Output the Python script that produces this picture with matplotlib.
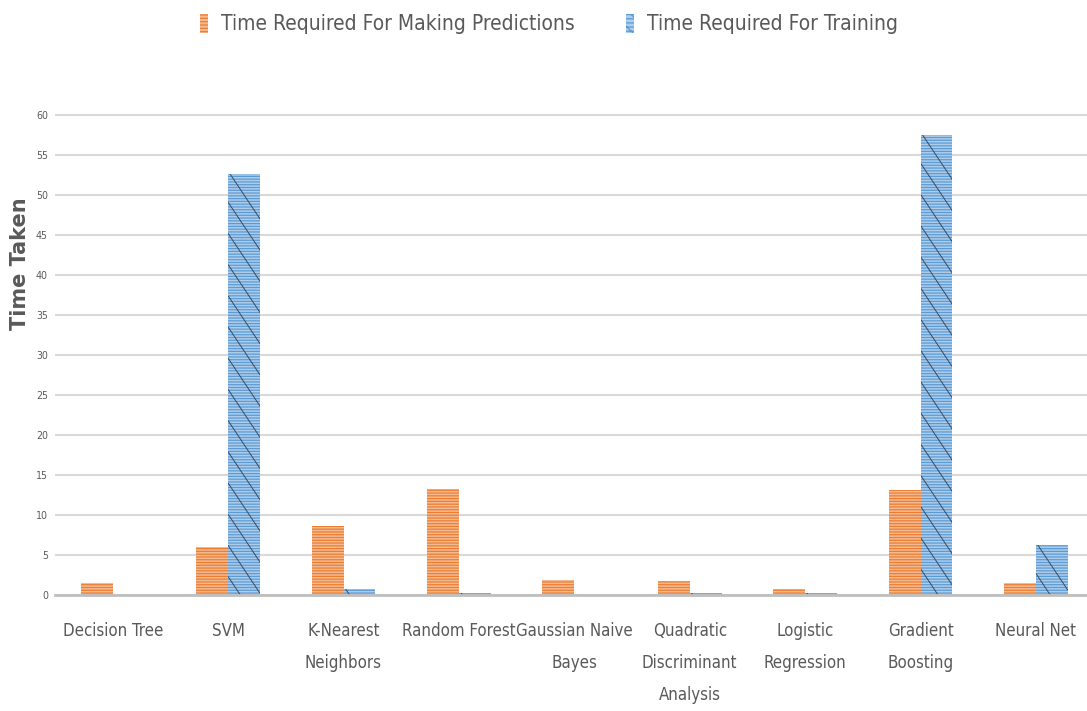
import numpy as np
import matplotlib
matplotlib.use("Agg")
import matplotlib.pyplot as plt
from matplotlib.collections import LineCollection
from matplotlib.patches import Patch
from matplotlib import font_manager

models = ["Decision Tree", "SVM", "K-Nearest\nNeighbors", "Random Forest",
          "Gaussian Naive\nBayes", "Quadratic\nDiscriminant\nAnalysis",
          "Logistic\nRegression", "Gradient\nBoosting", "Neural Net"]
predict_time = [1.45, 6.0, 8.6, 13.25, 1.9, 1.8, 0.75, 13.15, 1.5]
train_time = [0.03, 52.6, 0.75, 0.3, 0.03, 0.2, 0.2, 57.5, 6.2]
yticks = list(range(0, 65, 5))
legend_labels = ["Time Required For Making Predictions", "Time Required For Training"]

# the reference text is condensed: pick the narrowest sans face available
rank = {"ultra-condensed": 0, "extra-condensed": 1, "condensed": 2, "semi-condensed": 3}
best, best_r = None, 9
for f in font_manager.fontManager.ttflist:
    n = f.name.lower()
    if "mono" in n or "serif" in n:
        continue
    st = str(f.stretch).lower()
    r = rank.get(st, 9)
    if r == 9 and ("narrow" in n or "condensed" in n):
        r = 2
    if r < best_r and f.weight in (400, "normal", "regular", "book"):
        best, best_r = f, r
txt = dict(family=best.name, stretch=best.stretch) if best else dict(family="Open Sans")

grey = "#595959"
fig = plt.figure(figsize=(10.87, 7.11), dpi=100)
renderer = fig.canvas.get_renderer()


def size_for(s, target_px, base=20.0):
    t = fig.text(0, 0, s, fontsize=base, **txt)
    wpx = t.get_window_extent(renderer).width
    t.remove()
    return base * target_px / wpx


tick_fs = size_for("Decision Tree", 100)
leg_fs = size_for(legend_labels[0], 352)
y_fs = min(size_for("60", 12), 10)

ax = fig.add_axes([55 / 1087, 116 / 711, 1038.6 / 1087, 481.6 / 711])

x = np.arange(len(models))
w = 0.277

# base fills
ax.bar(x - w / 2, predict_time, w, color="#F6BA92", linewidth=0, zorder=2)
ax.bar(x + w / 2, train_time, w, color="#AECDEB", linewidth=0, zorder=2)
# horizontal line hatching
plt.rcParams["hatch.linewidth"] = 0.9
ax.bar(x - w / 2, predict_time, w, facecolor="none", edgecolor="#ED7D31",
       hatch="------", linewidth=0, zorder=3)
blue = ax.bar(x + w / 2, train_time, w, facecolor="none", edgecolor="#5B9BD5",
              hatch="------", linewidth=0, zorder=3)

# steep dark diagonal hatch on the training bars
for rect in blue:
    x0, y0 = rect.get_x(), rect.get_y()
    bw, bh = rect.get_width(), rect.get_height()
    drop = 6.0
    step = 3.9
    segs = []
    yk = y0 + bh + 0.4
    while yk > y0 - drop:
        segs.append([(x0, yk), (x0 + bw, yk - drop)])
        yk -= step
    lc = LineCollection(segs, colors="#3A4A5E", linewidths=0.7, zorder=4)
    ax.add_collection(lc)
    lc.set_clip_path(rect)

px = 72 / 100  # points per pixel
ax.set_xlim(-0.5, len(models) - 0.5)
ax.set_ylim(0, 60.2)
ax.set_yticks(yticks)
ax.set_xticks(x)
ax.set_xticklabels(models, fontsize=tick_fs, color=grey,
                   linespacing=1.23 * 32.5 * px / (tick_fs * 1.2), **txt)
ax.set_yticklabels([str(t) for t in yticks], fontsize=y_fs, color=grey, **txt)
ax.tick_params(length=0)
ax.tick_params(axis="x", pad=27 * px)
ax.tick_params(axis="y", pad=7 * px)
ax.grid(axis="y", color="#D9D9D9", linewidth=1.5, zorder=0)
ax.set_axisbelow(True)
for s in ["top", "right", "left"]:
    ax.spines[s].set_visible(False)
ax.spines["bottom"].set_color("#BFBFBF")
ax.spines["bottom"].set_linewidth(2)
ax.spines["bottom"].set_zorder(5)

fig.text(20 / 1087, 1 - 264 / 711, "Time Taken", rotation=90, ha="center",
         va="center", fontsize=15, fontweight="bold", color=grey,
         family="DejaVu Sans", stretch="normal")

# legend
h1 = Patch(facecolor="#F6BA92", edgecolor="#ED7D31", hatch="-----", linewidth=0)
h2 = Patch(facecolor="#AECDEB", edgecolor="#5B9BD5", hatch="----\\\\", linewidth=0)
em = leg_fs / px  # font size in pixels
fig.legend([h1, h2], legend_labels,
           loc="center", bbox_to_anchor=(549 / 1087, 1 - 24 / 711), ncol=2,
           frameon=False, handlelength=8 / em, handleheight=21 / em,
           handletextpad=13 / em, columnspacing=52 / em,
           prop=dict(size=leg_fs, **txt), labelcolor=grey)

fig.savefig("out.png", dpi=100)
